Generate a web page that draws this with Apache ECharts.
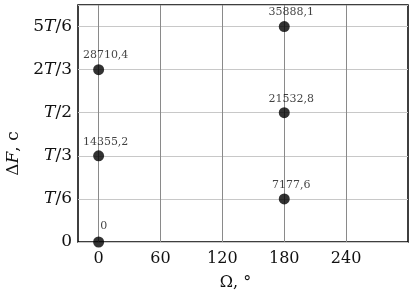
<!DOCTYPE html>
<html><head><meta charset="utf-8">
<script src="https://cdn.jsdelivr.net/npm/echarts@6/dist/echarts.min.js"></script>
<style>html,body{margin:0;padding:0;background:#fff}#c{width:414px;height:296px}</style>
</head><body><div id="c"></div>
<script>
const omega = [0, 0, 0, 180, 180, 180];
const deltaF = [0, 14355.2, 28710.4, 7177.6, 21532.8, 35888.1];
const pointLabels = ['0', '14355,2', '28710,4', '7177,6', '21532,8', '35888,1'];
const xTicks = [0, 60, 120, 180, 240];
const yStep = 7177.6;
const yTickLabels = ['0', 'T/6', 'T/3', 'T/2', '2T/3', '5T/6'];
const F = 'DejaVu Serif';
function yRich(s){
  if (s === '0') return '{n|0}';
  const i = s.indexOf('T');
  return (i > 0 ? '{n|' + s.slice(0, i) + '}' : '') + '{i|T}{n|' + s.slice(i + 1) + '}';
}
const chart = echarts.init(document.getElementById('c'));
chart.setOption({
  animation: false,
  grid: {left: 78, right: 6, top: 5, bottom: 54, show: true, borderColor: '#000', borderWidth: 1.5, containLabel: false, outerBoundsMode: 'none'},
  xAxis: {
    type: 'value', min: -20, max: 300, interval: 20,
    axisLine: {show: false}, axisTick: {show: false},
    splitLine: {show: false},
    axisLabel: {fontFamily: F, fontSize: 16, color: '#111', margin: 9, showMinLabel: false, showMaxLabel: false,
      formatter: v => xTicks.includes(v) ? String(v) : ''},
    name: 'Ω, °', nameLocation: 'middle', nameGap: 33,
    nameTextStyle: {fontFamily: F, fontSize: 16, color: '#111', padding: [0, 15, 0, 0]}
  },
  yAxis: {
    type: 'value', min: 0, max: 5.5 * yStep, interval: yStep,
    axisLine: {show: false},
    axisTick: {show: false},
    splitLine: {show: true, lineStyle: {color: '#c8c8c8', width: 1}},
    axisLabel: {margin: 6, showMaxLabel: false,
      formatter: v => { const k = Math.round(v / yStep); return Math.abs(v - k * yStep) < 1 && yTickLabels[k] ? yRich(yTickLabels[k]) : ''; },
      rich: {n: {fontFamily: F, fontSize: 17, color: '#111'}, i: {fontFamily: F, fontSize: 17, fontStyle: 'italic', color: '#111'}}},
    name: '{d|Δ}{i|F}{d|, c}', nameLocation: 'middle', nameGap: 54,
    nameTextStyle: {padding: [0, 0, 0, -60], rich: {d: {fontFamily: F, fontSize: 17, color: '#111'}, i: {fontFamily: F, fontSize: 17, fontStyle: 'italic', color: '#111'}}}
  },
  series: [{
    type: 'scatter', symbol: 'circle', symbolSize: 11,
    itemStyle: {color: '#000'},
    z: 5,
    data: omega.map((x, i) => ({value: [x, deltaF[i]], label: {formatter: pointLabels[i], offset: i === 0 ? [5, -2] : [7, 0]}})),
    label: {show: true, position: 'top', distance: 3, fontFamily: F, fontSize: 11, color: '#111'},
    markLine: {
      silent: true, symbol: 'none', label: {show: false},
      lineStyle: {color: '#8a8a8a', width: 1, type: 'solid'},
      data: xTicks.map(v => ({xAxis: v}))
    }
  }]
});
</script></body></html>
